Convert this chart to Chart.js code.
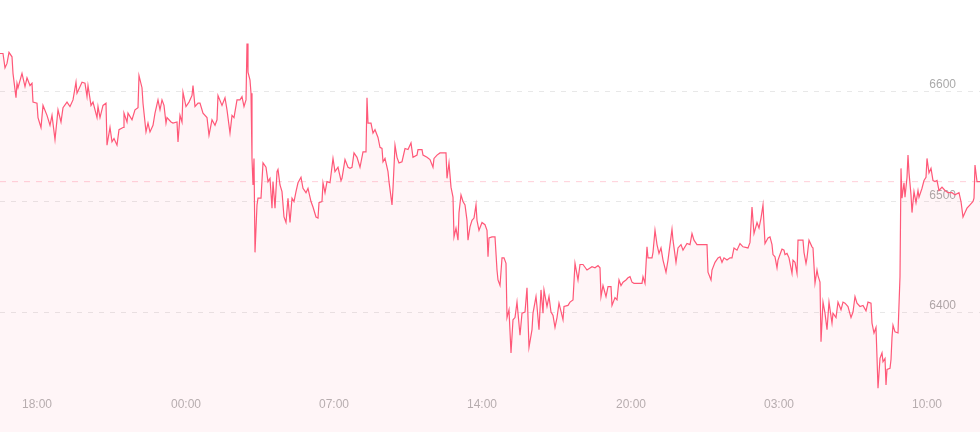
<!DOCTYPE html>
<html lang="en">
<head>
  <meta charset="UTF-8">
  <title>Price chart</title>
  <script src="https://cdn.jsdelivr.net/npm/chart.js"></script>
  <style>
    html, body {
      margin: 0;
      padding: 0;
      background: #fff;
    }
    #wrap {
      position: relative;
      width: 980px;
      height: 432px;
    }
  </style>
</head>
<body>
  <div id="wrap">
    <canvas id="priceChart"></canvas>
  </div>

  <script>
    // sample index of each price point (series has ~980 samples)
    const sampleIdx = [
      0, 3, 5, 7, 9, 12, 13, 16, 17, 18, 22, 25, 27, 30, 32, 33, 37, 38, 41, 43, 47, 50, 52, 55, 58, 61, 63, 67, 70, 73,
      76, 77, 82, 85, 87, 88, 91, 93, 97, 98, 100, 103, 106, 107, 110, 112, 114, 117, 119, 123, 124, 127, 128, 132, 135, 138, 139, 142, 143, 146,
      148, 150, 153, 155, 158, 160, 162, 164, 166, 167, 171, 173, 177, 178, 180, 182, 183, 186, 189, 192, 193, 195, 198, 200, 203, 207, 209, 212, 215, 217,
      218, 222, 225, 227, 230, 232, 234, 237, 240, 242, 244, 246, 247, 248, 250, 251, 252, 253, 254, 255, 257, 258, 261, 263, 266, 268, 270, 272, 273, 275,
      277, 278, 280, 282, 284, 286, 288, 290, 292, 294, 296, 298, 301, 303, 306, 308, 311, 313, 316, 318, 319, 322, 323, 325, 327, 330, 333, 335, 338, 341,
      342, 345, 348, 350, 352, 354, 357, 360, 363, 366, 367, 368, 371, 373, 375, 378, 380, 382, 383, 385, 388, 389, 392, 393, 395, 397, 399, 402, 405, 408,
      411, 413, 417, 418, 422, 423, 427, 430, 433, 434, 437, 440, 446, 447, 449, 451, 453, 454, 456, 458, 459, 461, 463, 465, 467, 468, 470, 472, 474, 476,
      477, 479, 482, 485, 487, 488, 489, 492, 495, 497, 498, 500, 502, 504, 506, 507, 509, 511, 513, 515, 517, 518, 520, 522, 525, 527, 529, 532, 533, 536,
      537, 539, 541, 543, 544, 547, 549, 551, 553, 555, 557, 559, 563, 564, 568, 570, 573, 575, 578, 580, 583, 587, 592, 595, 598, 600, 601, 603, 606, 608,
      611, 612, 615, 617, 619, 621, 623, 626, 628, 630, 632, 634, 642, 643, 645, 647, 648, 652, 653, 655, 657, 659, 661, 663, 666, 668, 670, 672, 673, 676,
      678, 681, 683, 687, 690, 692, 694, 697, 700, 707, 708, 711, 712, 715, 718, 720, 722, 724, 727, 730, 732, 734, 737, 740, 743, 748, 750, 752, 754, 757,
      759, 761, 763, 765, 768, 770, 772, 773, 775, 777, 778, 780, 782, 784, 785, 787, 789, 792, 793, 795, 797, 798, 803, 804, 806, 807, 809, 812, 813, 815,
      817, 818, 820, 821, 823, 825, 827, 829, 832, 833, 836, 838, 841, 843, 845, 848, 851, 853, 855, 857, 860, 863, 866, 868, 871, 872, 874, 876, 877, 878,
      880, 882, 883, 885, 886, 887, 890, 891, 892, 893, 895, 898, 900, 901, 902, 904, 905, 907, 908, 909, 911, 912, 914, 916, 918, 919, 922, 924, 926, 927,
      929, 931, 933, 935, 937, 939, 942, 945, 948, 952, 955, 959, 961, 963, 965, 967, 970, 973, 974, 975, 977, 980
    ];

    const prices = [
      6634, 6634, 6621, 6625, 6635, 6631, 6616, 6594, 6607, 6603, 6616, 6604, 6612, 6605, 6607, 6590, 6589, 6576, 6567, 6587, 6578, 6569, 6578, 6556, 6583, 6572, 6585, 6590, 6586, 6592,
      6608, 6598, 6608, 6607, 6595, 6605, 6587, 6590, 6576, 6586, 6576, 6587, 6589, 6551, 6567, 6554, 6557, 6551, 6565, 6567, 6580, 6572, 6580, 6574, 6583, 6585, 6614, 6603, 6589, 6563,
      6571, 6563, 6569, 6580, 6592, 6583, 6592, 6587, 6571, 6576, 6572, 6571, 6572, 6554, 6578, 6572, 6599, 6586, 6590, 6596, 6605, 6586, 6589, 6589, 6580, 6576, 6560, 6574, 6569, 6574,
      6596, 6587, 6594, 6583, 6562, 6578, 6576, 6592, 6592, 6595, 6586, 6592, 6643, 6617, 6610, 6598, 6539, 6515, 6539, 6454, 6497, 6503, 6503, 6535, 6531, 6518, 6521, 6494, 6518, 6494,
      6527, 6529, 6515, 6509, 6486, 6481, 6503, 6481, 6503, 6500, 6509, 6517, 6522, 6512, 6508, 6512, 6500, 6495, 6486, 6485, 6499, 6500, 6517, 6508, 6518, 6517, 6539, 6527, 6531, 6519,
      6521, 6538, 6531, 6530, 6531, 6544, 6540, 6531, 6545, 6545, 6594, 6571, 6571, 6562, 6565, 6558, 6549, 6548, 6536, 6539, 6527, 6518, 6497, 6512, 6551, 6540, 6535, 6536, 6548, 6547,
      6553, 6540, 6542, 6547, 6547, 6542, 6540, 6538, 6531, 6539, 6542, 6544, 6544, 6521, 6535, 6513, 6504, 6468, 6476, 6465, 6490, 6506, 6500, 6497, 6483, 6465, 6477, 6483, 6485, 6497,
      6483, 6474, 6481, 6479, 6474, 6450, 6467, 6468, 6468, 6438, 6429, 6424, 6449, 6449, 6444, 6395, 6402, 6363, 6393, 6395, 6409, 6399, 6379, 6399, 6400, 6422, 6368, 6384, 6399, 6414,
      6405, 6384, 6420, 6399, 6420, 6405, 6414, 6400, 6397, 6386, 6395, 6408, 6393, 6405, 6406, 6409, 6411, 6444, 6429, 6443, 6443, 6438, 6441, 6440, 6442, 6440, 6414, 6424, 6414, 6423,
      6423, 6406, 6413, 6411, 6429, 6424, 6427, 6429, 6431, 6432, 6427, 6426, 6426, 6432, 6426, 6459, 6449, 6449, 6454, 6474, 6461, 6453, 6458, 6447, 6436, 6447, 6461, 6475, 6465, 6445,
      6458, 6461, 6456, 6462, 6461, 6471, 6465, 6461, 6461, 6461, 6436, 6429, 6438, 6445, 6449, 6450, 6445, 6449, 6447, 6449, 6449, 6458, 6456, 6462, 6459, 6458, 6463, 6495, 6471, 6481,
      6476, 6485, 6497, 6462, 6467, 6468, 6461, 6452, 6450, 6440, 6447, 6452, 6457, 6456, 6452, 6453, 6449, 6435, 6447, 6445, 6435, 6465, 6465, 6454, 6444, 6449, 6465, 6459, 6458, 6426,
      6438, 6433, 6427, 6373, 6409, 6399, 6384, 6409, 6390, 6399, 6395, 6409, 6402, 6409, 6408, 6405, 6395, 6400, 6414, 6408, 6405, 6406, 6401, 6409, 6408, 6390, 6381, 6386, 6359, 6331,
      6358, 6363, 6355, 6358, 6334, 6348, 6349, 6357, 6377, 6388, 6382, 6381, 6432, 6530, 6503, 6517, 6504, 6522, 6542, 6526, 6506, 6490, 6509, 6499, 6510, 6504, 6512, 6519, 6522, 6539,
      6526, 6530, 6519, 6518, 6519, 6510, 6513, 6510, 6508, 6508, 6506, 6508, 6500, 6486, 6490, 6494, 6497, 6500, 6503, 6533, 6518, 6518
    ];

    // x-axis labels and the sample index each one sits on
    const xTickIdx = [37, 186, 334, 482, 631, 779, 927];
    const xTickLabels = ['18:00', '00:00', '07:00', '14:00', '20:00', '03:00', '10:00'];

    // y-axis price labels
    const yTicks = [6400, 6500, 6600];

    const lastPrice = prices[prices.length - 1];

    // dashed line at the latest price
    const lastPriceLine = {
      id: 'lastPriceLine',
      beforeDatasetsDraw(chart) {
        const { ctx, chartArea } = chart;
        const y = chart.scales.y.getPixelForValue(lastPrice);
        ctx.save();
        ctx.strokeStyle = 'rgba(255, 87, 119, 0.28)';
        ctx.lineWidth = 1;
        ctx.setLineDash([6, 6]);
        ctx.beginPath();
        ctx.moveTo(chartArea.left, y);
        ctx.lineTo(chartArea.right, y);
        ctx.stroke();
        ctx.restore();
      }
    };

    // x labels sit inside the plot, over the fill: give the zero-height axis a band to draw in
    const xLabelBand = {
      id: 'xLabelBand',
      afterLayout(chart) {
        const x = chart.scales.x;
        x.top = x.bottom - 40;
      }
    };

    const points = sampleIdx.map((x, i) => ({ x: x, y: prices[i] }));

    new Chart(document.getElementById('priceChart'), {
      type: 'line',
      data: {
        datasets: [{
          data: points,
          borderColor: '#ff5878',
          borderWidth: 1.2,
          backgroundColor: 'rgba(255, 88, 120, 0.06)',
          fill: 'start',
          pointRadius: 0,
          tension: 0
        }]
      },
      options: {
        responsive: true,
        maintainAspectRatio: false,
        animation: false,
        layout: { padding: 0 },
        plugins: {
          legend: { display: false },
          tooltip: { enabled: false }
        },
        scales: {
          x: {
            type: 'linear',
            min: 0,
            max: 980,
            afterFit: (scale) => { scale.height = 0; },
            afterBuildTicks: (scale) => {
              scale.ticks = xTickIdx.map(v => ({ value: v }));
            },
            grid: { display: false, drawTicks: false },
            border: { display: false },
            ticks: {
              autoSkip: false,
              maxRotation: 0,
              padding: 5,
              color: '#b3b3b3',
              font: { family: 'Liberation Sans', size: 12 },
              callback: (value) => xTickLabels[xTickIdx.indexOf(value)]
            }
          },
          y: {
            position: 'right',
            min: 6291.4,
            max: 6682.4,
            afterFit: (scale) => { scale.width = 0; },
            afterBuildTicks: (scale) => {
              scale.ticks = yTicks.map(v => ({ value: v }));
            },
            grid: { color: '#e8e8e8', drawTicks: false },
            border: { display: false, dash: [5, 6] },
            ticks: {
              mirror: true,
              padding: -24,
              labelOffset: -6,
              color: '#aaaaaa',
              font: { family: 'Liberation Sans', size: 12 },
              callback: (value) => String(value)
            }
          }
        }
      },
      plugins: [lastPriceLine, xLabelBand]
    });
  </script>
</body>
</html>
